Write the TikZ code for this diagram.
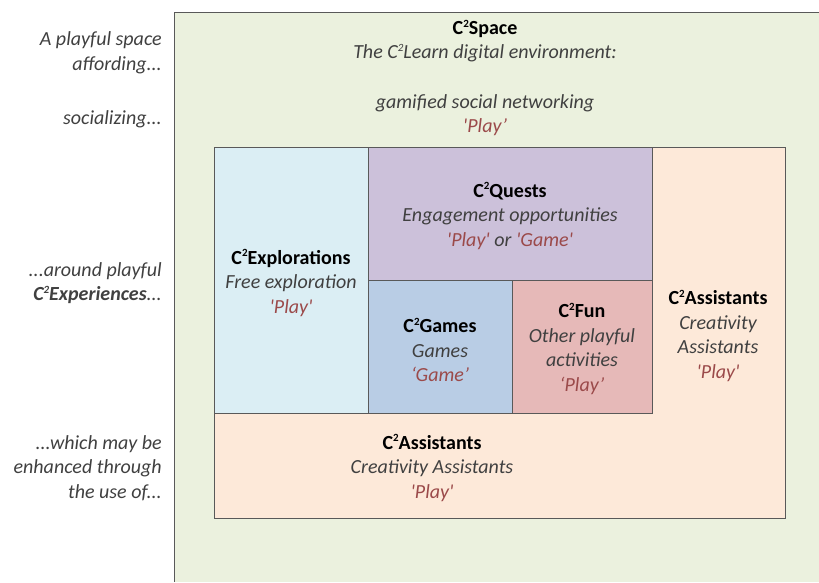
\documentclass[tikz,border=0pt]{standalone}
\usepackage{fontspec}
\setmainfont{Carlito}
\definecolor{gbg}{HTML}{EBF1DE}
\definecolor{peach}{HTML}{FDE9D9}
\definecolor{lblue}{HTML}{DBEEF4}
\definecolor{purp}{HTML}{CCC1DA}
\definecolor{mblue}{HTML}{B9CDE5}
\definecolor{pink}{HTML}{E6B9B8}
\definecolor{edge}{HTML}{595959}
\definecolor{txt}{HTML}{404040}
\definecolor{pl}{HTML}{9B4A4A}
\newcommand{\sq}{\raisebox{0.75ex}{\fontsize{11}{11}\selectfont 2}}
\newcommand{\pl}[1]{\textcolor{pl}{#1}}
\newcommand{\q}{\textquotesingle}
\tikzset{
  box/.style={draw=edge, line width=0.9pt},
  lbl/.style={font=\fontsize{20}{24.5}\selectfont\itshape, text=txt, align=right, anchor=east, inner sep=0pt},
  blk/.style={font=\fontsize{20}{24.5}\selectfont, text=txt, align=center, inner sep=0pt},
}
\begin{document}
\begin{tikzpicture}[x=1pt,y=-1pt]
\useasboundingbox (0,0) rectangle (819,582);
% outer green space
\fill[gbg] (174,12) rectangle (819,582);
\draw[box] (819,12) -- (174,12) -- (174,582);
% boxes
\draw[box, fill=peach] (214,147) rectangle (785,518);
\draw[box, fill=lblue] (214,147) rectangle (368,413);
\draw[box, fill=purp] (368,147) rectangle (652,280);
\draw[box, fill=mblue] (368,280) rectangle (512,413);
\draw[box, fill=pink] (512,280) rectangle (652,413);
% left labels
\node[lbl] (l1) at (162,53) {A playful space\\affording...};
\node[lbl] (l2) at (162,119) {socializing...};
\node[lbl] (l3) at (162,283) {...around playful\\\textbf{C\sq Experiences}...};
\node[lbl] (l4) at (162,468) {...which may be\\enhanced through\\the use of...};
% texts
\node[blk] (space) at (485,41) {\textcolor{black}{\textbf{C\sq Space}}\\\itshape The C\sq Learn digital environment:};
\node[blk] (social) at (485,115) {\itshape gamified social networking\\\itshape\pl{\q Play'}};
\node[blk] (expl) at (291,283) {\textcolor{black}{\textbf{C\sq Explorations}}\\\itshape Free exploration\\\itshape\pl{\q Play\q}};
\node[blk] (quest) at (510,216) {\textcolor{black}{\textbf{C\sq Quests}}\\\itshape Engagement opportunities\\\itshape\pl{\q Play\q} or \pl{\q Game\q}};
\node[blk] (games) at (440,350) {\textcolor{black}{\textbf{C\sq Games}}\\\itshape Games\\\itshape\pl{`Game'}};
\node[blk] (fun) at (582,349) {\textcolor{black}{\textbf{C\sq Fun}}\\\itshape Other playful\\\itshape activities\\\itshape\pl{`Play'}};
\node[blk] (asr) at (718,336) {\textcolor{black}{\textbf{C\sq Assistants}}\\\itshape Creativity\\\itshape Assistants\\\itshape\pl{\q Play\q}};
\node[blk] (asb) at (432,468) {\textcolor{black}{\textbf{C\sq Assistants}}\\\itshape Creativity Assistants\\\itshape\pl{\q Play\q}};
\end{tikzpicture}
\end{document}
